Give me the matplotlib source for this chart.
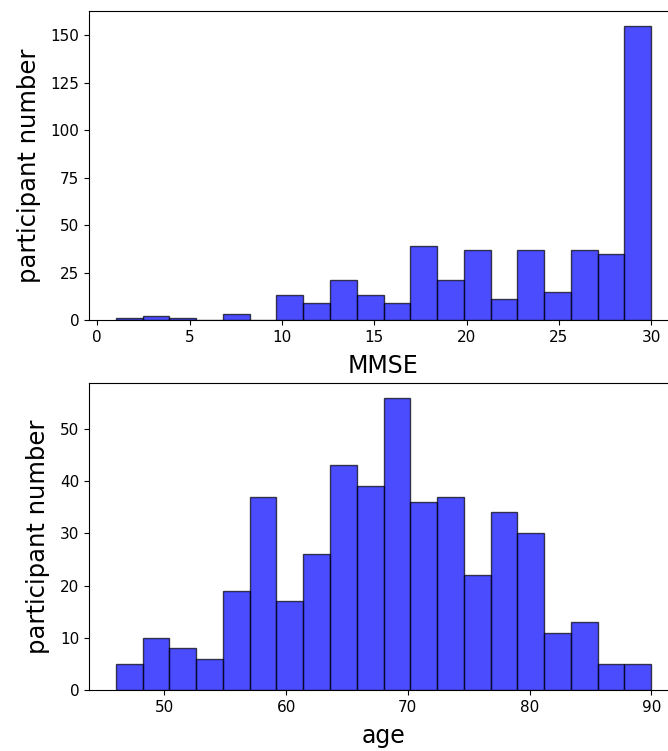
import numpy as np
import matplotlib
matplotlib.use("Agg")
import matplotlib.pyplot as plt

# MMSE histogram (20 bins from 1 to 30)
mmse_range = (1, 30)
mmse_counts = [1, 2, 1, 0, 3, 0, 13, 9, 21, 13, 9, 39, 21, 37, 11, 37, 15, 37, 35, 155]

# Age histogram (20 bins from 46 to 90)
age_range = (46, 90)
age_counts = [5, 10, 8, 6, 19, 37, 17, 26, 43, 39, 56, 36, 37, 22, 34, 30, 11, 13, 5, 5]

fig = plt.figure(figsize=(6.68, 7.51), dpi=100)
ax1 = fig.add_axes([89/668, 1-320/751, (678-89)/668, (320-11)/751])
ax2 = fig.add_axes([89/668, 1-690/751, (678-89)/668, (690-383)/751])

def draw(ax, rng, counts, xlabel):
    edges = np.linspace(rng[0], rng[1], len(counts) + 1)
    centers = (edges[:-1] + edges[1:]) / 2
    ax.hist(centers, bins=edges, weights=counts, color='blue', alpha=0.7,
            edgecolor='black')
    ax.set_xlabel(xlabel, fontsize=17, labelpad=7)
    ax.set_ylabel('participant number', fontsize=17.5, labelpad=7)
    ax.tick_params(labelsize=11)

draw(ax1, mmse_range, mmse_counts, 'MMSE')
draw(ax2, age_range, age_counts, 'age')
ax1.set_yticks([0, 25, 50, 75, 100, 125, 150])

fig.savefig('out.png', dpi=100)
